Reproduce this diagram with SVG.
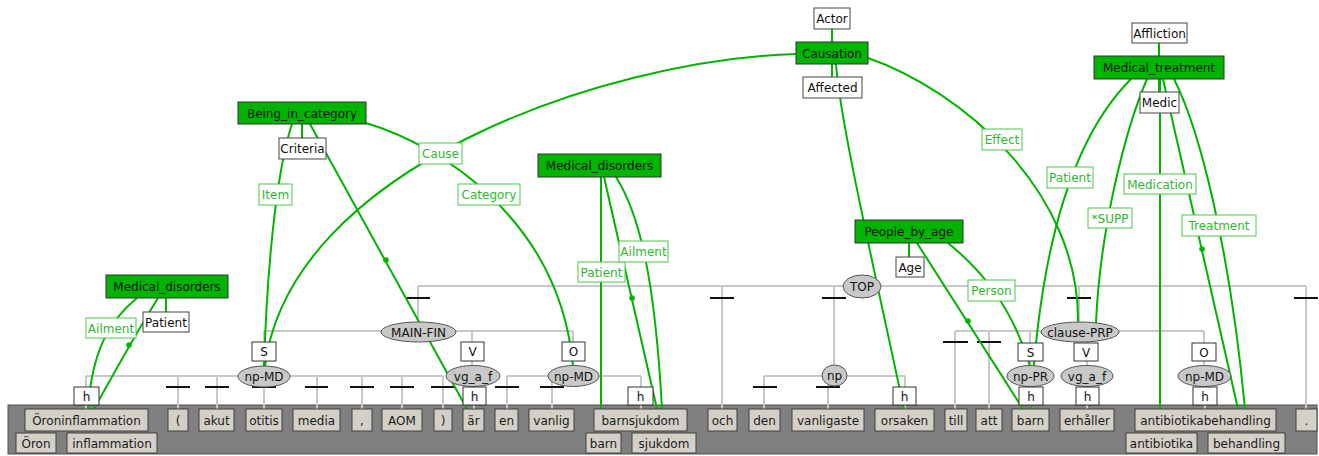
<svg xmlns="http://www.w3.org/2000/svg" width="1319" height="456" viewBox="0 0 1319 456">
<defs>
<style>
text{font-family:"DejaVu Sans","Liberation Sans",sans-serif;font-size:12px;text-anchor:middle;fill:#111}
.tree{stroke:#c8c8c8;stroke-width:2;fill:none}
.dash{stroke:#111;stroke-width:2;fill:none}
.edge{stroke:#00b400;stroke-width:2;fill:none}
.dot{fill:#00b400}
.nt ellipse{fill:#c8c8c8;stroke:#555;stroke-width:1}
.fn rect{fill:#fff;stroke:#333;stroke-width:1}
.tok rect{fill:#d4d0c8;stroke:#404040;stroke-width:1}
.tok text{fill:#1a1a1a}
.frame rect{fill:#00b400;stroke:#333;stroke-width:1}
.core rect{fill:#fff;stroke:#444;stroke-width:1}
.fe rect{fill:#fff;stroke:#4cc84c;stroke-width:1}
.fe text{fill:#2fb82f}
</style>
</defs>
<rect x="0" y="0" width="1319" height="456" fill="#fff"/>
<rect x="8" y="405" width="1309" height="49" fill="#808080" stroke="#505050" stroke-width="1"/>

<g id="tree-lines">
<path class="tree" d="M418,286 H1306 M418,286 V322 M722,286 V409 M834,286 V365 M1079,286 V323 M1306,286 V409"/>
<path class="tree" d="M264,331 H573 M264,331 V342 M472,331 V342 M573,331 V342 M264,361 V366 M472,361 V366 M573,361 V366"/>
<path class="tree" d="M86,376 H443 M86,376 V387 M86,405 V409 M178,376 V409 M217,376 V409 M264,376 V409 M317,376 V409 M362,376 V409 M402,376 V409 M443,376 V409"/>
<path class="tree" d="M474,386 V409"/>
<path class="tree" d="M507,376 H641 M507,376 V409 M552,376 V409 M641,376 V387 M641,405 V409"/>
<path class="tree" d="M764,376 H905 M764,376 V409 M828,376 V409 M905,376 V387 M905,405 V409"/>
<path class="tree" d="M955,331 H1204 M955,331 V409 M989,331 V409 M1030,331 V343 M1087,331 V343 M1204,331 V343 M1030,361 V366 M1087,361 V366 M1204,361 V366 M1031,405 V409 M1087,405 V409 M1205,405 V409"/>
<path class="dash" d="M407,298 H430 M710,298 H734 M822,298 H846 M1067,298 H1091 M1294,298 H1318"/>
<path class="dash" d="M166,387 H190 M205,387 H229 M252,387 H276 M305,387 H328 M350,387 H374 M390,387 H414 M431,387 H455 M495,387 H519 M540,387 H564 M753,387 H777 M816,387 H840"/>
<path class="dash" d="M943,342 H968 M977,342 H1001"/>
</g>

<g id="connectors">
<path class="edge" d="M137,298 C110,320 92,350 88,409"/>
<path class="edge" d="M158,298 Q135,335 94,409"/>
<circle class="dot" cx="129" cy="345" r="2.8"/>
<path class="edge" d="M166,298 V312"/>
<path class="edge" d="M292,124 C280,160 268,240 264,366"/>
<path class="edge" d="M302,124 V138"/>
<path class="edge" d="M310,124 L467,409"/>
<circle class="dot" cx="386" cy="260" r="2.8"/>
<path class="edge" d="M366,123 C440,145 560,220 573,366"/>
<path class="edge" d="M796,54 C600,60 290,170 265,366"/>
<path class="edge" d="M601,177 V409"/>
<path class="edge" d="M604,177 L657,409"/>
<circle class="dot" cx="632" cy="298" r="2.8"/>
<path class="edge" d="M616,177 C640,215 655,280 662,409"/>
<path class="edge" d="M832,29 V42 M832,64 V77"/>
<path class="edge" d="M836,64 C840,120 870,250 904,409"/>
<path class="edge" d="M868,58 C960,90 1080,190 1078,323"/>
<path class="edge" d="M909,243 V257"/>
<path class="edge" d="M917,243 L1023,409"/>
<circle class="dot" cx="968" cy="321" r="2.8"/>
<path class="edge" d="M948,243 C975,265 1010,300 1030,366"/>
<path class="edge" d="M1159,43 V56 M1159,79 V92"/>
<path class="edge" d="M1131,79 C1080,130 1040,230 1031,409"/>
<path class="edge" d="M1147,79 C1125,130 1100,230 1096,323"/>
<path class="edge" d="M1160,79 V409"/>
<path class="edge" d="M1163,79 L1238,409"/>
<circle class="dot" cx="1202" cy="249" r="2.8"/>
<path class="edge" d="M1174,79 C1200,130 1230,250 1245,409"/>
</g>

<g id="tree-nodes">
<g id="n-TOP" class="nt"><ellipse cx="862" cy="286.5" rx="19" ry="11.5"/><text x="862" y="291">TOP</text></g>
<g id="n-MAIN-FIN" class="nt"><ellipse cx="418.5" cy="332" rx="37.5" ry="10"/><text x="418.5" y="336.5">MAIN-FIN</text></g>
<g id="n-S1" class="fn"><rect x="252" y="342" width="24" height="19"/><text x="264" y="356">S</text></g>
<g id="n-V1" class="fn"><rect x="461" y="342" width="23" height="19"/><text x="472.5" y="356">V</text></g>
<g id="n-O1" class="fn"><rect x="562" y="342" width="23" height="19"/><text x="573.5" y="356">O</text></g>
<g id="n-npMD1" class="nt"><ellipse cx="264" cy="376.5" rx="26" ry="10.5"/><text x="264" y="381">np-MD</text></g>
<g id="n-vgaf1" class="nt"><ellipse cx="473" cy="376" rx="27" ry="10.5"/><text x="473" y="380.5">vg_a_f</text></g>
<g id="n-npMD2" class="nt"><ellipse cx="573.5" cy="376" rx="25.5" ry="10.5"/><text x="573.5" y="380.5">np-MD</text></g>
<g id="n-np" class="nt"><ellipse cx="834.5" cy="375.5" rx="12.5" ry="10.5"/><text x="834.5" y="380">np</text></g>
<g id="n-clausePRP" class="nt"><ellipse cx="1080" cy="332" rx="39" ry="10"/><text x="1080" y="336.5">clause-PRP</text></g>
<g id="n-S2" class="fn"><rect x="1018" y="343" width="25" height="18"/><text x="1030.5" y="356.5">S</text></g>
<g id="n-V2" class="fn"><rect x="1074" y="343" width="24" height="18"/><text x="1086" y="356.5">V</text></g>
<g id="n-O2" class="fn"><rect x="1192" y="343" width="24" height="18"/><text x="1204" y="356.5">O</text></g>
<g id="n-npPR" class="nt"><ellipse cx="1030.5" cy="376" rx="23.5" ry="10.5"/><text x="1030.5" y="380.5">np-PR</text></g>
<g id="n-vgaf2" class="nt"><ellipse cx="1087" cy="376" rx="26" ry="10.5"/><text x="1087" y="380.5">vg_a_f</text></g>
<g id="n-npMD3" class="nt"><ellipse cx="1204.5" cy="376" rx="26.5" ry="10.5"/><text x="1204.5" y="380.5">np-MD</text></g>
<g id="h1" class="fn"><rect x="74" y="387" width="25" height="18"/><text x="86.5" y="400.5">h</text></g>
<g id="h2" class="fn"><rect x="463" y="387" width="23" height="18"/><text x="474.5" y="400.5">h</text></g>
<g id="h3" class="fn"><rect x="628" y="387" width="25" height="18"/><text x="640.5" y="400.5">h</text></g>
<g id="h4" class="fn"><rect x="893" y="387" width="23" height="18"/><text x="904.5" y="400.5">h</text></g>
<g id="h5" class="fn"><rect x="1019" y="387" width="24" height="18"/><text x="1031" y="400.5">h</text></g>
<g id="h6" class="fn"><rect x="1076" y="387" width="23" height="18"/><text x="1087.5" y="400.5">h</text></g>
<g id="h7" class="fn"><rect x="1193" y="387" width="24" height="18"/><text x="1205" y="400.5">h</text></g>
</g>

<g id="tokens">
<g id="t1" class="tok"><rect x="25" y="409" width="123" height="22"/><text x="86.5" y="424.5">Öroninflammation</text></g>
<g id="t1a" class="tok"><rect x="16" y="433" width="40" height="20"/><text x="36" y="447.5">Öron</text></g>
<g id="t1b" class="tok"><rect x="67" y="433" width="90" height="20"/><text x="112" y="447.5">inflammation</text></g>
<g id="t2" class="tok"><rect x="168" y="409" width="20" height="22"/><text x="178" y="424.5">(</text></g>
<g id="t3" class="tok"><rect x="199" y="409" width="35" height="22"/><text x="216.5" y="424.5">akut</text></g>
<g id="t4" class="tok"><rect x="246" y="409" width="36" height="22"/><text x="264" y="424.5">otitis</text></g>
<g id="t5" class="tok"><rect x="293" y="409" width="47" height="22"/><text x="316.5" y="424.5">media</text></g>
<g id="t6" class="tok"><rect x="352" y="409" width="20" height="22"/><text x="362" y="424.5">,</text></g>
<g id="t7" class="tok"><rect x="382" y="409" width="40" height="22"/><text x="402" y="424.5">AOM</text></g>
<g id="t8" class="tok"><rect x="434" y="409" width="18" height="22"/><text x="443" y="424.5">)</text></g>
<g id="t9" class="tok"><rect x="463" y="409" width="21" height="22"/><text x="473.5" y="424.5">är</text></g>
<g id="t10" class="tok"><rect x="495" y="409" width="23" height="22"/><text x="506.5" y="424.5">en</text></g>
<g id="t11" class="tok"><rect x="529" y="409" width="45" height="22"/><text x="551.5" y="424.5">vanlig</text></g>
<g id="t12" class="tok"><rect x="594" y="409" width="93" height="22"/><text x="640.5" y="424.5">barnsjukdom</text></g>
<g id="t12a" class="tok"><rect x="586" y="433" width="35" height="20"/><text x="603.5" y="447.5">barn</text></g>
<g id="t12b" class="tok"><rect x="632" y="433" width="64" height="20"/><text x="664" y="447.5">sjukdom</text></g>
<g id="t13" class="tok"><rect x="708" y="409" width="29" height="22"/><text x="722.5" y="424.5">och</text></g>
<g id="t14" class="tok"><rect x="749" y="409" width="31" height="22"/><text x="764.5" y="424.5">den</text></g>
<g id="t15" class="tok"><rect x="792" y="409" width="72" height="22"/><text x="828" y="424.5">vanligaste</text></g>
<g id="t16" class="tok"><rect x="875" y="409" width="59" height="22"/><text x="904.5" y="424.5">orsaken</text></g>
<g id="t17" class="tok"><rect x="945" y="409" width="22" height="22"/><text x="956" y="424.5">till</text></g>
<g id="t18" class="tok"><rect x="976" y="409" width="26" height="22"/><text x="989" y="424.5">att</text></g>
<g id="t19" class="tok"><rect x="1012" y="409" width="37" height="22"/><text x="1030.5" y="424.5">barn</text></g>
<g id="t20" class="tok"><rect x="1060" y="409" width="54" height="22"/><text x="1087" y="424.5">erhåller</text></g>
<g id="t21" class="tok"><rect x="1135" y="409" width="141" height="22"/><text x="1205.5" y="424.5">antibiotikabehandling</text></g>
<g id="t21a" class="tok"><rect x="1126" y="433" width="71" height="20"/><text x="1161.5" y="447.5">antibiotika</text></g>
<g id="t21b" class="tok"><rect x="1208" y="433" width="77" height="20"/><text x="1246.5" y="447.5">behandling</text></g>
<g id="t22" class="tok"><rect x="1296" y="409" width="21" height="22"/><text x="1306.5" y="424.5">.</text></g>
</g>

<g id="frames">
<g id="f-MD1" class="frame"><rect x="106" y="275" width="122" height="23"/><text x="167" y="291">Medical_disorders</text></g>
<g id="f-BiC" class="frame"><rect x="238" y="102" width="128" height="22"/><text x="302" y="117.5">Being_in_category</text></g>
<g id="f-MD2" class="frame"><rect x="538" y="154" width="123" height="23"/><text x="599.5" y="170">Medical_disorders</text></g>
<g id="f-Causation" class="frame"><rect x="796" y="42" width="72" height="22"/><text x="832" y="57.5">Causation</text></g>
<g id="f-PbA" class="frame"><rect x="855" y="220" width="108" height="23"/><text x="909" y="236">People_by_age</text></g>
<g id="f-MT" class="frame"><rect x="1094" y="56" width="130" height="23"/><text x="1159" y="72">Medical_treatment</text></g>
</g>

<g id="core-fes">
<g id="c-Patient1" class="core"><rect x="143" y="312" width="46" height="20"/><text x="166" y="326.5">Patient</text></g>
<g id="c-Criteria" class="core"><rect x="279" y="138" width="47" height="21"/><text x="302.5" y="153">Criteria</text></g>
<g id="c-Actor" class="core"><rect x="814" y="8" width="36" height="21"/><text x="832" y="23">Actor</text></g>
<g id="c-Affected" class="core"><rect x="803" y="77" width="59" height="21"/><text x="832.5" y="92">Affected</text></g>
<g id="c-Age" class="core"><rect x="896" y="257" width="28" height="20"/><text x="910" y="271.5">Age</text></g>
<g id="c-Affliction" class="core"><rect x="1132" y="23" width="55" height="20"/><text x="1159.5" y="37.5">Affliction</text></g>
<g id="c-Medic" class="core"><rect x="1140" y="92" width="39" height="21"/><text x="1159.5" y="107">Medic</text></g>
</g>

<g id="fe-labels">
<g id="l-Ailment1" class="fe"><rect x="86" y="318" width="50" height="20"/><text x="111" y="332.5">Ailment</text></g>
<g id="l-Item" class="fe"><rect x="259" y="184" width="33" height="21"/><text x="275.5" y="199">Item</text></g>
<g id="l-Cause" class="fe"><rect x="419" y="143" width="43" height="21"/><text x="440.5" y="158">Cause</text></g>
<g id="l-Category" class="fe"><rect x="458" y="184" width="62" height="21"/><text x="489" y="199">Category</text></g>
<g id="l-Patient2" class="fe"><rect x="578" y="262" width="47" height="20"/><text x="601.5" y="276.5">Patient</text></g>
<g id="l-Ailment2" class="fe"><rect x="619" y="241" width="49" height="21"/><text x="643.5" y="256">Ailment</text></g>
<g id="l-Effect" class="fe"><rect x="982" y="129" width="40" height="21"/><text x="1002" y="144">Effect</text></g>
<g id="l-Patient3" class="fe"><rect x="1047" y="167" width="46" height="21"/><text x="1070" y="182">Patient</text></g>
<g id="l-Medication" class="fe"><rect x="1124" y="174" width="72" height="20"/><text x="1160" y="188.5">Medication</text></g>
<g id="l-SUPP" class="fe"><rect x="1088" y="208" width="44" height="20"/><text x="1110" y="222.5">*SUPP</text></g>
<g id="l-Treatment" class="fe"><rect x="1182" y="215" width="74" height="21"/><text x="1219" y="230">Treatment</text></g>
<g id="l-Person" class="fe"><rect x="968" y="280" width="47" height="21"/><text x="991.5" y="295">Person</text></g>
</g>
</svg>
